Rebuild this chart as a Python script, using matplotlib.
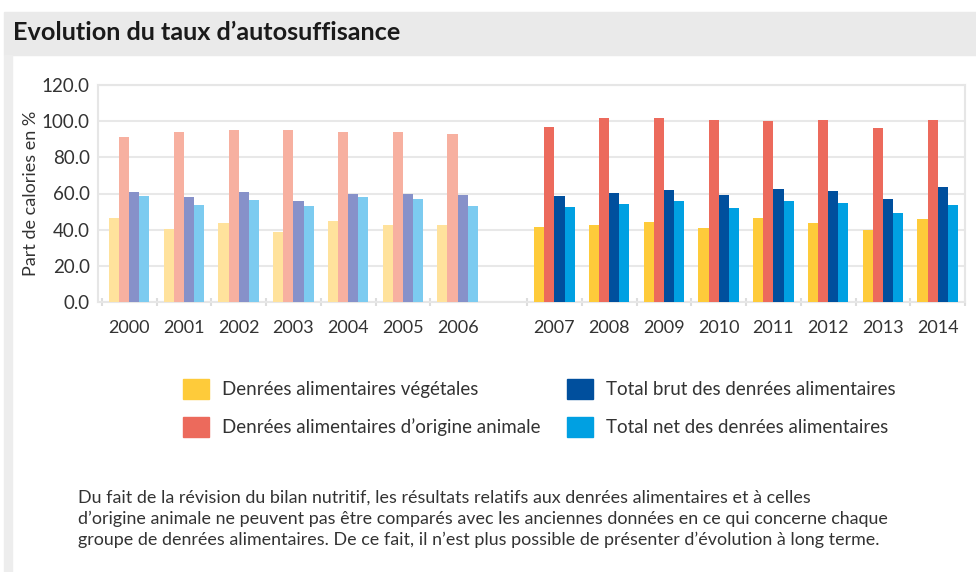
import numpy as np
import matplotlib.pyplot as plt
from matplotlib.patches import Rectangle, Patch

# --- Données ---
annees = ["2000", "2001", "2002", "2003", "2004", "2005", "2006",
          "2007", "2008", "2009", "2010", "2011", "2012", "2013", "2014"]
vegetales = [46.7, 40.1, 43.8, 38.8, 44.9, 42.6, 42.6,
             41.5, 42.4, 44.5, 40.7, 46.3, 43.7, 39.8, 46.1]
animales = [91.2, 93.8, 94.9, 94.9, 93.8, 93.8, 92.9,
            96.7, 101.8, 101.8, 100.5, 99.9, 100.5, 96.4, 100.7]
total_brut = [60.9, 58.2, 60.9, 56.1, 60.0, 60.0, 59.3,
              58.6, 60.1, 62.0, 59.0, 62.7, 61.2, 57.1, 63.4]
total_net = [58.7, 53.9, 56.5, 53.0, 58.2, 57.2, 53.0,
             52.7, 54.0, 55.6, 51.9, 55.8, 54.5, 49.3, 53.8]
series = ["Denrées alimentaires végétales",
          "Denrées alimentaires d’origine animale",
          "Total brut des denrées alimentaires",
          "Total net des denrées alimentaires"]
y_ticks = [0, 20, 40, 60, 80, 100, 120]

# couleurs : anciennes données (pâles) et nouvelles données
couleurs_old = ["#FFE29C", "#F7B0A0", "#8791C9", "#7CCBF0"]
couleurs_new = ["#FECB3A", "#EC6A5C", "#004F9D", "#00A0E2"]

plt.rcParams['font.family'] = ['Lato', 'DejaVu Sans']

fig = plt.figure(figsize=(9.76, 5.72), dpi=100)
fig.patch.set_facecolor("white")

# cadre gris (bandeau titre + bord gauche)
fig.patches.append(Rectangle((4 / 976, 1 - 55 / 572), 1, 43 / 572,
                             transform=fig.transFigure, color="#EAEAEA", zorder=0))
fig.patches.append(Rectangle((4 / 976, 0), 8 / 976, 1 - 55 / 572,
                             transform=fig.transFigure, color="#EDEDED", zorder=0))
fig.text(13 / 976, 1 - 33 / 572, "Evolution du taux d’autosuffisance",
         fontsize=18.2, fontweight="bold", color="#1a1a1a", va="center", ha="left")

ax = fig.add_axes([98 / 976, 1 - 302 / 572, (965 - 98) / 976, (302 - 85) / 572])

# position des groupes : un espace entre 2006 et 2007
ecart = 0.77
n_old = 7
pos = np.array([i if i < n_old else i + ecart for i in range(len(annees))])
w = 0.185
valeurs = [vegetales, animales, total_brut, total_net]
for k, vals in enumerate(valeurs):
    cols = [couleurs_old[k] if i < n_old else couleurs_new[k] for i in range(len(annees))]
    ax.bar(pos + (k - 1.5) * w, vals, width=w, color=cols, zorder=3, linewidth=0)

ax.set_xlim(-0.57, pos[-1] + 0.5)
ax.set_ylim(0, 120)
ax.set_yticks(y_ticks)
ax.set_yticklabels([f"{v:.1f}" for v in y_ticks])
ax.set_xticks(pos)
ax.set_xticklabels(annees)
limites = list(pos - 0.5) + [pos[-1] + 0.5]
ax.set_xticks(limites, minor=True)
ax.tick_params(axis="x", which="major", length=0, pad=13, labelsize=13, colors="#333333")
ax.tick_params(axis="x", which="minor", length=6, direction="inout", color="#DDDDDD", width=1.5)
ax.tick_params(axis="y", length=0, pad=6, labelsize=13.5, colors="#333333")
ax.grid(axis="y", color="#E8E8E8", linewidth=1.5, zorder=0)
for s in ax.spines.values():
    s.set_color("#E6E6E6")
    s.set_linewidth(1.5)
ax.set_ylabel("Part de calories en %", fontsize=13, color="#333333", labelpad=2)

# légende
handles = [Patch(color=c) for c in couleurs_new]
leg = fig.legend(handles, series,
                 loc="center left", bbox_to_anchor=(166 / 976, 1 - 408 / 572),
                 ncol=2, frameon=False, fontsize=13.5, handlelength=1.4, handleheight=1.3,
                 columnspacing=1.4, labelspacing=0.95, handletextpad=0.7)
for t in leg.get_texts():
    t.set_color("#333333")

note = ("Du fait de la révision du bilan nutritif, les résultats relatifs aux denrées alimentaires et à celles\n"
        "d’origine animale ne peuvent pas être comparés avec les anciennes données en ce qui concerne chaque\n"
        "groupe de denrées alimentaires. De ce fait, il n’est plus possible de présenter d’évolution à long terme.")
fig.text(78 / 976, 1 - 519 / 572, note, fontsize=12.85, color="#333333",
         va="center", ha="left", linespacing=1.38)

fig.savefig("out.png", dpi=100)
